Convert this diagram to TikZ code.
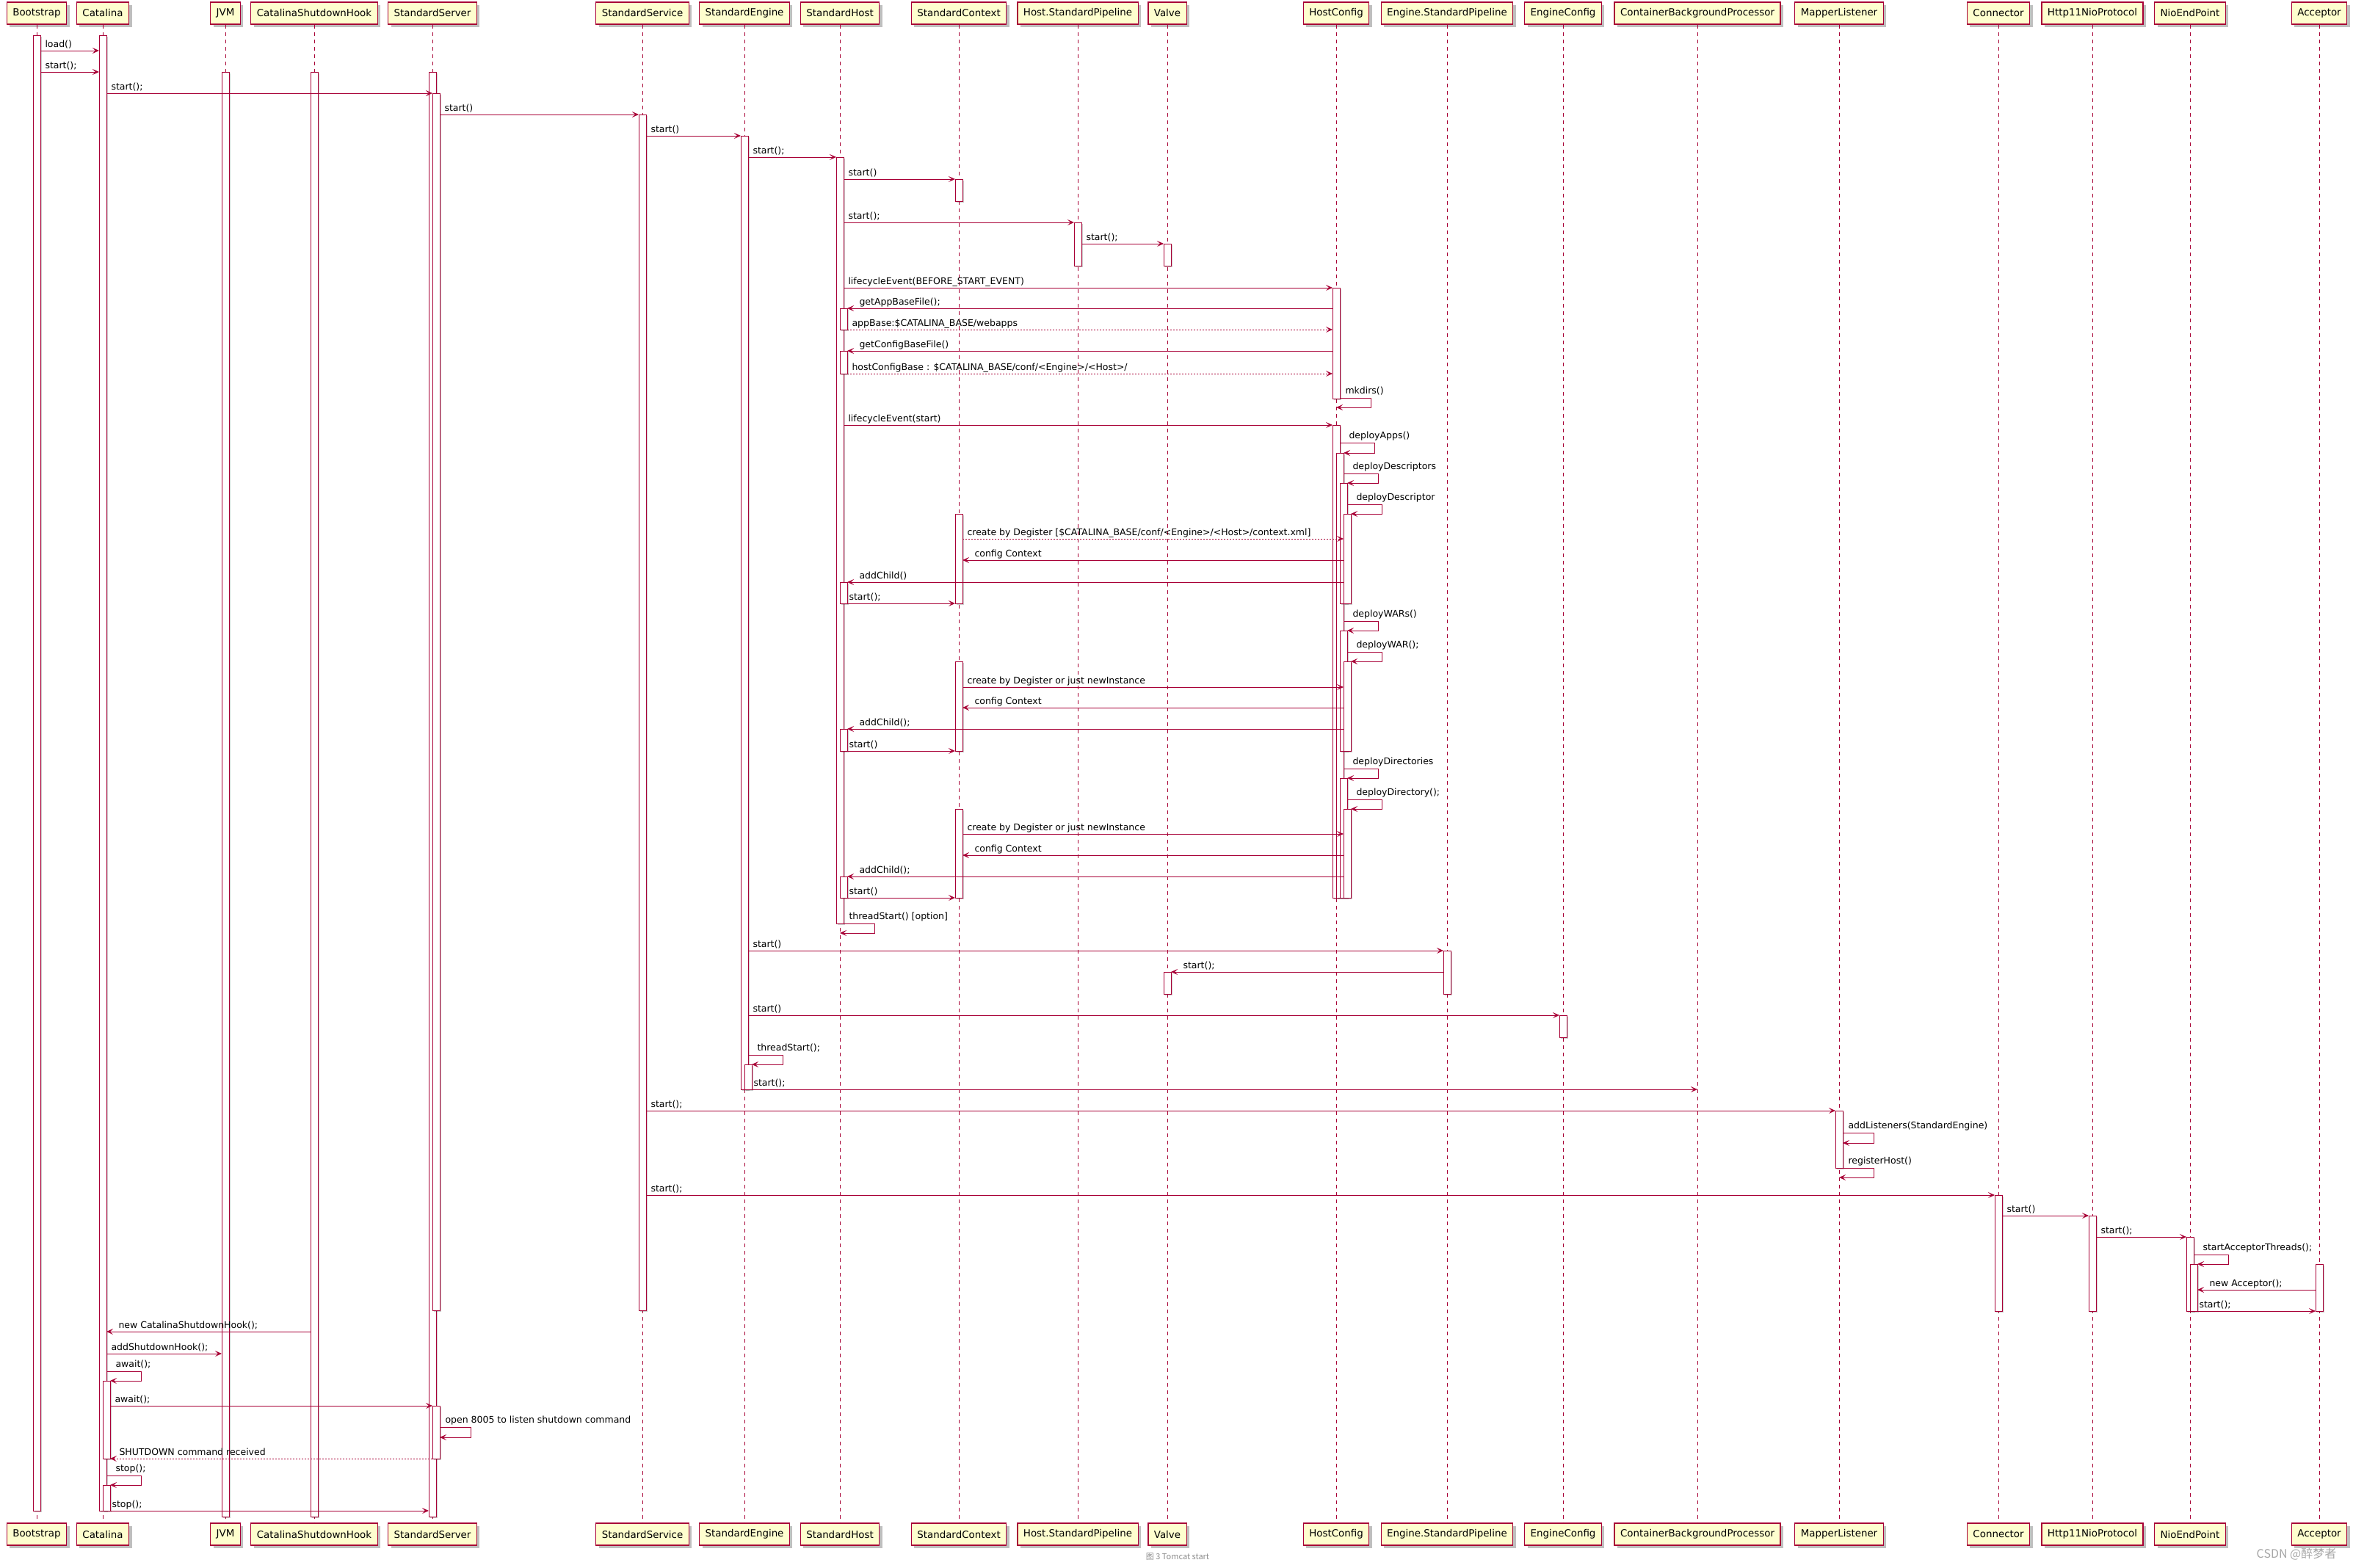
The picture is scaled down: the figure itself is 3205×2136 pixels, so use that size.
\documentclass[tikz,border=0pt]{standalone}
\usepackage{fontspec}
\setmainfont{DejaVu Sans}
\newfontfamily\cjkfont{Noto Sans CJK SC}
\usetikzlibrary{arrows.meta, shadows}
\definecolor{umlred}{HTML}{A80036}
\definecolor{umlbox}{HTML}{FEFECE}

\begin{document}
\begin{tikzpicture}[
  x=1pt, y=-1pt,
  head/.style={rectangle, draw=umlred, fill=umlbox, line width=1.2pt, minimum height=30pt, inner xsep=8pt, font=\fontsize{13.4}{16}\selectfont, drop shadow={shadow xshift=4pt, shadow yshift=-4pt, fill=black, opacity=0.25}},
  life/.style={draw=umlred, line width=0.9pt, dash pattern=on 5pt off 5pt},
  act/.style={rectangle, draw=umlred, fill=white, line width=1pt, minimum width=10pt, inner sep=0pt, outer sep=0pt, anchor=north, drop shadow={shadow xshift=2pt, shadow yshift=-2pt, fill=black, opacity=0.2}},
  msg/.style={-{Stealth[length=9pt, width=8pt, inset=4pt]}, draw=umlred, line width=1pt},
  ret/.style={msg, dash pattern=on 2pt off 2pt},
  lbl/.style={font=\fontsize{12.5}{15}\selectfont, inner sep=0pt, anchor=base west},
  rlbl/.style={lbl, pos=0, xshift=6pt, yshift=5pt},
  llbl/.style={lbl, pos=1, xshift=16pt, yshift=5pt},
  slbl/.style={lbl, pos=0, xshift=7pt, yshift=6pt}
]
\useasboundingbox (0,0) rectangle (3205,2136);

% Participants, top row
\node[head] (boot) at (50,18) {Bootstrap};
\node[head] (cat) at (140,18) {Catalina};
\node[head] (jvm) at (307,18) {JVM};
\node[head] (hook) at (428,18) {CatalinaShutdownHook};
\node[head] (srv) at (589,18) {StandardServer};
\node[head] (svc) at (875,18) {StandardService};
\node[head] (eng) at (1014,18) {StandardEngine};
\node[head] (host) at (1144,18) {StandardHost};
\node[head] (ctx) at (1306,18) {StandardContext};
\node[head] (hpipe) at (1468,18) {Host.StandardPipeline};
\node[head] (valve) at (1590,18) {Valve};
\node[head] (hcfg) at (1820,18) {HostConfig};
\node[head] (epipe) at (1971,18) {Engine.StandardPipeline};
\node[head] (ecfg) at (2129,18) {EngineConfig};
\node[head] (cbp) at (2312,18) {ContainerBackgroundProcessor};
\node[head] (mapper) at (2505,18) {MapperListener};
\node[head] (conn) at (2722,18) {Connector};
\node[head] (proto) at (2850,18) {Http11NioProtocol};
\node[head] (nio) at (2983,18) {NioEndPoint};
\node[head] (acc) at (3159,18) {Acceptor};

% Participants, bottom row
\node[head] (bootEnd) at (50,2090) {Bootstrap};
\node[head] (catEnd) at (140,2090) {Catalina};
\node[head] (jvmEnd) at (307,2090) {JVM};
\node[head] (hookEnd) at (428,2090) {CatalinaShutdownHook};
\node[head] (srvEnd) at (589,2090) {StandardServer};
\node[head] (svcEnd) at (875,2090) {StandardService};
\node[head] (engEnd) at (1014,2090) {StandardEngine};
\node[head] (hostEnd) at (1144,2090) {StandardHost};
\node[head] (ctxEnd) at (1306,2090) {StandardContext};
\node[head] (hpipeEnd) at (1468,2090) {Host.StandardPipeline};
\node[head] (valveEnd) at (1590,2090) {Valve};
\node[head] (hcfgEnd) at (1820,2090) {HostConfig};
\node[head] (epipeEnd) at (1971,2090) {Engine.StandardPipeline};
\node[head] (ecfgEnd) at (2129,2090) {EngineConfig};
\node[head] (cbpEnd) at (2312,2090) {ContainerBackgroundProcessor};
\node[head] (mapperEnd) at (2505,2090) {MapperListener};
\node[head] (connEnd) at (2722,2090) {Connector};
\node[head] (protoEnd) at (2850,2090) {Http11NioProtocol};
\node[head] (nioEnd) at (2983,2090) {NioEndPoint};
\node[head] (accEnd) at (3159,2090) {Acceptor};

% Lifelines
\foreach \p in {boot,cat,jvm,hook,srv,svc,eng,host,ctx,hpipe,valve,hcfg,epipe,ecfg,cbp,mapper,conn,proto,nio,acc}
  \draw[life] (\p.south) -- (\p End.north);

% Activations
\node[act, minimum height=2010] (bootA) at (50,48) {};
\node[act, minimum height=2010] (catA) at (140,48) {};
\node[act, minimum height=106] (catB) at (145,1881) {};
\node[act, minimum height=35] (catC) at (145,2023) {};
\node[act, minimum height=1968] (jvmA) at (307,98) {};
\node[act, minimum height=1968] (hookA) at (428,98) {};
\node[act, minimum height=1968] (srvA) at (589,98) {};
\node[act, minimum height=1658] (srvB) at (594,127) {};
\node[act, minimum height=72] (srvC) at (594,1915) {};
\node[act, minimum height=1629] (svcA) at (875,156) {};
\node[act, minimum height=1299] (engA) at (1014,185) {};
\node[act, minimum height=34] (engB) at (1019,1450) {};
\node[act, minimum height=1044] (hostA) at (1144,214) {};
\node[act, minimum height=29] (hostB) at (1149,420) {};
\node[act, minimum height=31] (hostC) at (1149,478) {};
\node[act, minimum height=29] (hostD) at (1149,793) {};
\node[act, minimum height=30] (hostE) at (1149,993) {};
\node[act, minimum height=29] (hostF) at (1149,1194) {};
\node[act, minimum height=30] (ctxA) at (1306,244) {};
\node[act, minimum height=122] (ctxB) at (1306,700) {};
\node[act, minimum height=122] (ctxC) at (1306,901) {};
\node[act, minimum height=121] (ctxD) at (1306,1102) {};
\node[act, minimum height=59] (hpA) at (1468,303) {};
\node[act, minimum height=30] (valA) at (1590,332) {};
\node[act, minimum height=30] (valB) at (1590,1324) {};
\node[act, minimum height=151] (hcA) at (1820,392) {};
\node[act, minimum height=644] (hcB) at (1820,579) {};
\node[act, minimum height=606] (hcC) at (1825,617) {};
\node[act, minimum height=164] (hcD) at (1830,658) {};
\node[act, minimum height=122] (hcE) at (1835,700) {};
\node[act, minimum height=164] (hcF) at (1830,859) {};
\node[act, minimum height=122] (hcG) at (1835,901) {};
\node[act, minimum height=163] (hcH) at (1830,1060) {};
\node[act, minimum height=121] (hcI) at (1835,1102) {};
\node[act, minimum height=59] (epA) at (1971,1295) {};
\node[act, minimum height=30] (ecA) at (2129,1383) {};
\node[act, minimum height=78] (mlA) at (2505,1513) {};
\node[act, minimum height=158] (conA) at (2722,1628) {};
\node[act, minimum height=130] (prA) at (2850,1656) {};
\node[act, minimum height=101] (nioA) at (2983,1685) {};
\node[act, minimum height=64] (nioB) at (2988,1722) {};
\node[act, minimum height=64] (accA) at (3159,1722) {};

% Startup chain
\draw[msg] (bootA.east |- 0,69) -- (catA.west |- 0,69) node[rlbl] (m1) {load()};
\draw[msg] (bootA.east |- 0,98) -- (catA.west |- 0,98) node[rlbl] (m2) {start();};
\draw[msg] (catA.east |- 0,127) -- (srvB.west |- 0,127) node[rlbl] (m3) {start();};
\draw[msg] (srvB.east |- 0,156) -- (svcA.west |- 0,156) node[rlbl] (m4) {start()};
\draw[msg] (svcA.east |- 0,185) -- (engA.west |- 0,185) node[rlbl] (m5) {start()};
\draw[msg] (engA.east |- 0,214) -- (hostA.west |- 0,214) node[rlbl] (m6) {start();};
\draw[msg] (hostA.east |- 0,244) -- (ctxA.west |- 0,244) node[rlbl] (m7) {start()};
\draw[msg] (hostA.east |- 0,303) -- (hpA.west |- 0,303) node[rlbl] (m8) {start();};
\draw[msg] (hpA.east |- 0,332) -- (valA.west |- 0,332) node[rlbl] (m9) {start();};

% HostConfig, before start
\draw[msg] (hostA.east |- 0,392) -- (hcA.west |- 0,392) node[rlbl] (m10) {lifecycleEvent(BEFORE\_START\_EVENT)};
\draw[msg] (hcA.west |- 0,420) -- (hostB.east |- 0,420) node[llbl] (m11) {getAppBaseFile();};
\draw[ret] (hostB.east |- 0,449) -- (hcA.west |- 0,449) node[rlbl] (m12) {appBase:\$CATALINA\_BASE/webapps};
\draw[msg] (hcA.west |- 0,478) -- (hostC.east |- 0,478) node[llbl] (m13) {getConfigBaseFile()};
\draw[ret] (hostC.east |- 0,509) -- (hcA.west |- 0,509) node[rlbl] (m14) {hostConfigBase : \$CATALINA\_BASE/conf/<Engine>/<Host>/};
\draw[msg] (hcA.east |- 0,542) -- node[slbl] (m15) {mkdirs()} ++(42,0) |- (hcfg |- 0,555);

% HostConfig, start: descriptors
\draw[msg] (hostA.east |- 0,579) -- (hcB.west |- 0,579) node[rlbl] (m16) {lifecycleEvent(start)};
\draw[msg] (hcB.east |- 0,603) -- node[slbl, xshift=5pt] (m17) {deployApps()} ++(47,0) |- (hcC.east |- 0,617);
\draw[msg] (hcC.east |- 0,645) -- node[slbl, xshift=5pt] (m18) {deployDescriptors} ++(47,0) |- (hcD.east |- 0,658);
\draw[msg] (hcD.east |- 0,687) -- node[slbl, xshift=5pt] (m19) {deployDescriptor} ++(47,0) |- (hcE.east |- 0,700);
\draw[ret] (ctxB.east |- 0,734) -- (hcE.west |- 0,734) node[rlbl] (m20) {create by Degister [\$CATALINA\_BASE/conf/<Engine>/<Host>/context.xml]};
\draw[msg] (hcE.west |- 0,763) -- (ctxB.east |- 0,763) node[llbl] (m21) {config Context};
\draw[msg] (hcE.west |- 0,793) -- (hostD.east |- 0,793) node[llbl] (m22) {addChild()};
\draw[msg] (hostD.east |- 0,822) -- (ctxB.west |- 0,822) node[rlbl, xshift=-4pt] (m23) {start();};

% WARs
\draw[msg] (hcC.east |- 0,846) -- node[slbl, xshift=5pt] (m24) {deployWARs()} ++(47,0) |- (hcF.east |- 0,859);
\draw[msg] (hcF.east |- 0,888) -- node[slbl, xshift=5pt] (m25) {deployWAR();} ++(47,0) |- (hcG.east |- 0,901);
\draw[msg] (ctxC.east |- 0,936) -- (hcG.west |- 0,936) node[rlbl] (m26) {create by Degister or just newInstance};
\draw[msg] (hcG.west |- 0,964) -- (ctxC.east |- 0,964) node[llbl] (m27) {config Context};
\draw[msg] (hcG.west |- 0,993) -- (hostE.east |- 0,993) node[llbl] (m28) {addChild();};
\draw[msg] (hostE.east |- 0,1023) -- (ctxC.west |- 0,1023) node[rlbl, xshift=-4pt] (m29) {start()};

% Directories
\draw[msg] (hcC.east |- 0,1047) -- node[slbl, xshift=5pt] (m30) {deployDirectories} ++(47,0) |- (hcH.east |- 0,1060);
\draw[msg] (hcH.east |- 0,1089) -- node[slbl, xshift=5pt] (m31) {deployDirectory();} ++(47,0) |- (hcI.east |- 0,1102);
\draw[msg] (ctxD.east |- 0,1136) -- (hcI.west |- 0,1136) node[rlbl] (m32) {create by Degister or just newInstance};
\draw[msg] (hcI.west |- 0,1165) -- (ctxD.east |- 0,1165) node[llbl] (m33) {config Context};
\draw[msg] (hcI.west |- 0,1194) -- (hostF.east |- 0,1194) node[llbl] (m34) {addChild();};
\draw[msg] (hostF.east |- 0,1223) -- (ctxD.west |- 0,1223) node[rlbl, xshift=-4pt] (m35) {start()};
\draw[msg] (hostA.east |- 0,1258) -- node[slbl] (m36) {threadStart() [option]} ++(42,0) |- (host |- 0,1271);

% Engine pipeline and config
\draw[msg] (engA.east |- 0,1295) -- (epA.west |- 0,1295) node[rlbl] (m37) {start()};
\draw[msg] (epA.west |- 0,1324) -- (valB.east |- 0,1324) node[llbl] (m38) {start();};
\draw[msg] (engA.east |- 0,1383) -- (ecA.west |- 0,1383) node[rlbl] (m39) {start()};
\draw[msg] (engA.east |- 0,1437) -- node[slbl, xshift=5pt] (m40) {threadStart();} ++(47,0) |- (engB.east |- 0,1450);
\draw[msg] (engB.east |- 0,1484) -- (cbp |- 0,1484) node[rlbl, xshift=-4pt] (m41) {start();};

% Mapper and connector
\draw[msg] (svcA.east |- 0,1513) -- (mlA.west |- 0,1513) node[rlbl] (m42) {start();};
\draw[msg] (mlA.east |- 0,1543) -- node[slbl] (m43) {addListeners(StandardEngine)} ++(42,0) |- (mlA.east |- 0,1557);
\draw[msg] (mlA.east |- 0,1591) -- node[slbl] (m44) {registerHost()} ++(42,0) |- (mapper |- 0,1604);
\draw[msg] (svcA.east |- 0,1628) -- (conA.west |- 0,1628) node[rlbl] (m45) {start();};
\draw[msg] (conA.east |- 0,1656) -- (prA.west |- 0,1656) node[rlbl] (m46) {start()};
\draw[msg] (prA.east |- 0,1685) -- (nioA.west |- 0,1685) node[rlbl] (m47) {start();};
\draw[msg] (nioA.east |- 0,1709) -- node[slbl, xshift=5pt] (m48) {startAcceptorThreads();} ++(47,0) |- (nioB.east |- 0,1722);
\draw[msg] (accA.west |- 0,1757) -- (nioB.east |- 0,1757) node[llbl] (m49) {new Acceptor();};
\draw[msg] (nioB.east |- 0,1786) -- (accA.west |- 0,1786) node[rlbl, xshift=-4pt] (m50) {start();};

% Shutdown hook and await
\draw[msg] (hookA.west |- 0,1814) -- (catA.east |- 0,1814) node[llbl] (m51) {new CatalinaShutdownHook();};
\draw[msg] (catA.east |- 0,1844) -- (jvmA.west |- 0,1844) node[rlbl] (m52) {addShutdownHook();};
\draw[msg] (catA.east |- 0,1868) -- node[slbl, xshift=5pt] (m53) {await();} ++(47,0) |- (catB.east |- 0,1881);
\draw[msg] (catB.east |- 0,1915) -- (srvC.west |- 0,1915) node[rlbl] (m54) {await();};
\draw[msg] (srvC.east |- 0,1944) -- node[slbl] (m55) {open 8005 to listen shutdown command} ++(42,0) |- (srvC.east |- 0,1958);
\draw[ret] (srvC.west |- 0,1987) -- (catB.east |- 0,1987) node[llbl, xshift=-4pt] (m56) {SHUTDOWN command received};
\draw[msg] (catA.east |- 0,2010) -- node[slbl, xshift=5pt] (m57) {stop();} ++(47,0) |- (catC.east |- 0,2023);
\draw[msg] (catC.east |- 0,2058) -- (srvA.west |- 0,2058) node[rlbl, xshift=-4pt] (m58) {stop();};

% Caption and mark
\node[font=\cjkfont\fontsize{11}{13}\selectfont, text=black!45] (caption) at (1604,2121) {图 3 Tomcat start};
\node[font=\cjkfont\fontsize{16}{18}\selectfont, text=black!35] (mark) at (3128,2117) {CSDN @醉梦者};

\end{tikzpicture}
\end{document}
